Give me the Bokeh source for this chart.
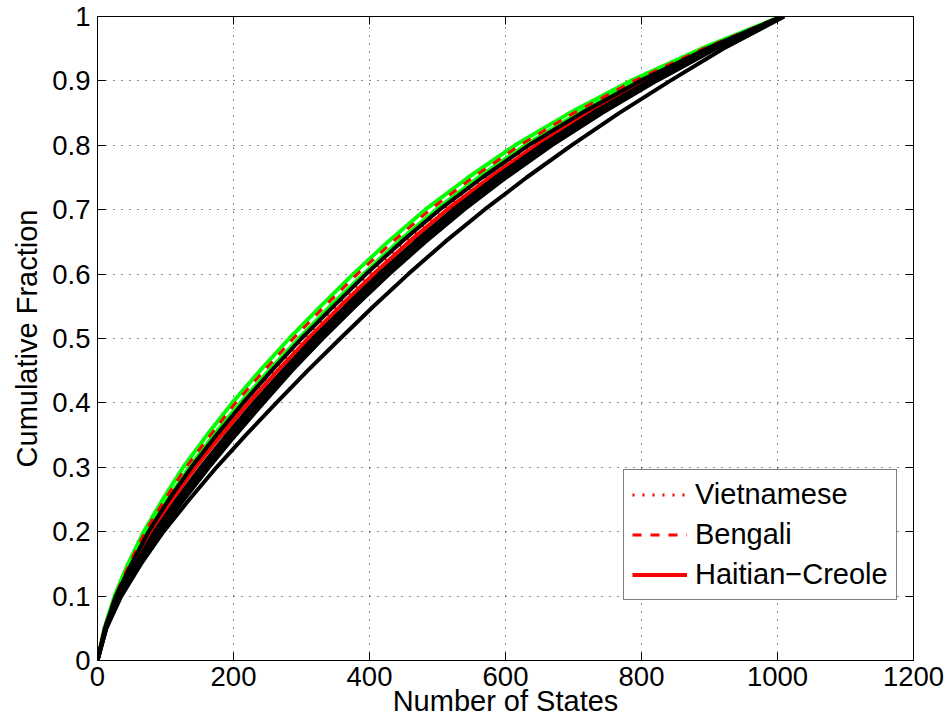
from bokeh.plotting import figure
from bokeh.models import Range1d, FixedTicker, LinearAxis, Legend, LegendItem
from bokeh.embed import file_html
from bokeh.resources import INLINE

# Cumulative fraction levels and number of states needed to reach them (per curve)
frac = [0, 0.05, 0.1, 0.15, 0.2, 0.25, 0.3, 0.35, 0.4, 0.45, 0.5,
        0.55, 0.6, 0.65, 0.7, 0.75, 0.8, 0.85, 0.9, 0.95, 1.0]

green_1 = [0, 10, 25, 45, 68, 96, 126, 161, 198, 239, 282, 328, 376, 427, 482, 545, 614, 694, 784, 888, 1005]
green_2 = [0, 11, 27, 48, 73, 103, 135, 171, 210, 252, 296, 342, 391, 442, 498, 560, 629, 707, 794, 894, 1006]
bengali = [0, 10, 26, 47, 70, 99, 130, 166, 203, 245, 288, 334, 382, 434, 489, 552, 621, 700, 789, 891, 1005]
vietnamese = [0, 11, 28, 51, 77, 108, 141, 178, 218, 260, 305, 351, 400, 452, 508, 571, 639, 716, 801, 898, 1007]
haitian_creole = [0, 11, 29, 52, 79, 110, 144, 182, 222, 265, 310, 357, 406, 458, 514, 577, 645, 721, 805, 900, 1007]
black_1 = [0, 11, 27, 50, 75, 105, 138, 175, 214, 256, 300, 347, 395, 447, 503, 566, 634, 712, 798, 896, 1006]
black_2 = [0, 12, 31, 56, 84, 117, 152, 190, 230, 273, 317, 365, 414, 467, 523, 585, 653, 728, 811, 903, 1007]
black_3 = [0, 12, 32, 59, 89, 123, 158, 197, 237, 280, 324, 372, 421, 474, 531, 593, 661, 735, 817, 906, 1008]
black_4 = [0, 13, 33, 61, 92, 127, 164, 203, 244, 286, 331, 379, 429, 482, 539, 601, 668, 742, 822, 909, 1008]
black_5 = [0, 13, 35, 64, 97, 135, 175, 218, 263, 309, 357, 406, 457, 511, 569, 631, 697, 767, 842, 920, 1010]

x_ticks = [0, 200, 400, 600, 800, 1000, 1200]
y_ticks = [0, 0.1, 0.2, 0.3, 0.4, 0.5, 0.6, 0.7, 0.8, 0.9, 1]
y_tick_labels = ["0", "0.1", "0.2", "0.3", "0.4", "0.5", "0.6", "0.7", "0.8", "0.9", "1"]

FONT = "Liberation Sans"

p = figure(width=947, height=728, x_range=Range1d(0, 1200), y_range=Range1d(0, 1),
           output_backend="svg", toolbar_location=None,
           min_border_left=97, min_border_right=34, min_border_top=16, min_border_bottom=68)
p.background_fill_color = "white"
p.border_fill_color = "white"
p.outline_line_color = "black"
p.outline_line_width = 1
p.outline_line_alpha = 1

# axes
for ax in (p.xaxis[0], p.yaxis[0]):
    ax.major_tick_in = 8
    ax.major_tick_out = 0
    ax.minor_tick_line_color = None
    ax.axis_line_color = "black"
    ax.major_tick_line_color = "black"
    ax.major_label_text_font = FONT
    ax.major_label_text_font_size = "27.5px"
    ax.major_label_text_color = "black"
    ax.axis_label_text_font = FONT
    ax.axis_label_text_font_size = "29px"
    ax.axis_label_text_font_style = "normal"
    ax.axis_label_text_color = "black"

p.xaxis.ticker = FixedTicker(ticks=x_ticks)
p.yaxis.ticker = FixedTicker(ticks=y_ticks)
p.yaxis.major_label_overrides = dict(zip(y_ticks, y_tick_labels))
p.xaxis.major_label_standoff = 6
p.yaxis.major_label_standoff = 7
p.yaxis.axis_label = "Cumulative Fraction"
p.yaxis.axis_label_standoff = 6
p.xaxis.axis_label = "Number of States"
p.xaxis.axis_label_standoff = -4

# top/right axes only for the inward ticks of the box (labels not drawn)
top_ax = LinearAxis(ticker=FixedTicker(ticks=x_ticks), major_tick_in=8, major_tick_out=0,
                    minor_tick_line_color=None, major_label_text_font_size="1px",
                    major_label_text_color=None, major_label_text_alpha=0,
                    major_label_standoff=0, axis_line_color="black")
right_ax = LinearAxis(ticker=FixedTicker(ticks=y_ticks), major_tick_in=8, major_tick_out=0,
                      minor_tick_line_color=None, major_label_text_font_size="1px",
                      major_label_text_color=None, major_label_text_alpha=0,
                      major_label_standoff=0, axis_line_color="black")
p.add_layout(top_ax, "above")
p.add_layout(right_ax, "right")

# grid
for g in (p.xgrid[0], p.ygrid[0]):
    g.grid_line_color = "black"
    g.grid_line_dash = "1 7"
    g.grid_line_width = 1
    g.grid_line_alpha = 0.9
p.xgrid.ticker = FixedTicker(ticks=x_ticks)
p.ygrid.ticker = FixedTicker(ticks=y_ticks)

LW = 4
p.line(green_1, frac, line_color="#00ff00", line_width=LW)
p.line(green_2, frac, line_color="#00ff00", line_width=LW)
r_ben = p.line(bengali, frac, line_color="#ff0000", line_width=3, line_dash="9 9")
r_vie = p.line(vietnamese, frac, line_color="#ff0000", line_width=3, line_dash="2 8")
r_hai = p.line(haitian_creole, frac, line_color="#ff0000", line_width=LW)
for b in (black_1, black_2, black_3, black_4, black_5):
    p.line(b, frac, line_color="black", line_width=LW)

legend = Legend(items=[LegendItem(label="Vietnamese", renderers=[r_vie]),
                       LegendItem(label="Bengali", renderers=[r_ben]),
                       LegendItem(label="Haitian\u2212Creole", renderers=[r_hai])],
                location=(526, 60))
legend.label_text_font = FONT
legend.label_text_font_size = "29px"
legend.label_text_color = "black"
legend.glyph_width = 55
legend.glyph_height = 33
legend.label_height = 33
legend.label_standoff = 8
legend.padding = 8
legend.spacing = 7
legend.margin = 0
legend.border_line_color = "black"
legend.border_line_width = 1
legend.background_fill_alpha = 1
p.add_layout(legend, "center")

open("out.html", "w").write(file_html(p, INLINE))
